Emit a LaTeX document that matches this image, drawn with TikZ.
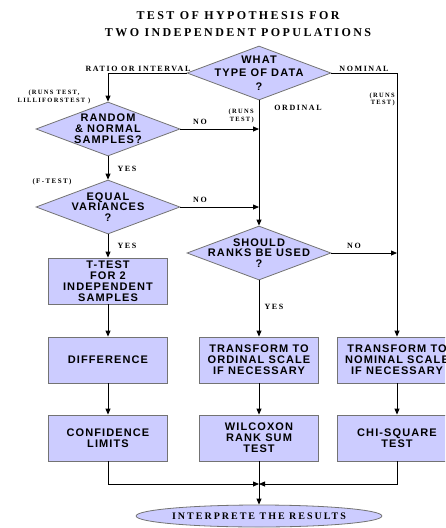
\documentclass[tikz,border=0pt]{standalone}
\usepackage{fontspec}
\setmainfont{Liberation Serif}
\newfontfamily\boxfont[LetterSpace=10]{Liberation Sans}
\newfontfamily\lblfont[LetterSpace=20]{Liberation Serif}
\usetikzlibrary{shapes.geometric, arrows.meta}
\definecolor{boxblue}{RGB}{204,204,255}
\definecolor{edgegray}{RGB}{115,115,115}
\tikzset{
  block/.style={rectangle, draw=edgegray, fill=boxblue, line width=0.8pt, minimum width=119pt, minimum height=46pt, inner sep=0pt, align=center, font=\boxfont\bfseries\fontsize{11}{11}\selectfont},
  choice/.style={diamond, draw=edgegray, fill=boxblue, line width=0.8pt, minimum width=144pt, minimum height=54pt, inner xsep=-45pt, inner ysep=-14pt, align=center, font=\boxfont\bfseries\fontsize{11}{10.8}\selectfont},
  result/.style={ellipse, draw=edgegray, fill=boxblue, line width=0.8pt, minimum width=211pt, minimum height=22pt, inner sep=0pt, font=\lblfont\bfseries\fontsize{10}{11}\selectfont},
  lbl/.style={inner sep=0pt, anchor=base, font=\lblfont\bfseries\fontsize{8}{9}\selectfont},
  note/.style={inner sep=0pt, font=\lblfont\bfseries\fontsize{6.5}{7.5}\selectfont},
  heading/.style={inner sep=0pt, align=center, font=\lblfont\bfseries\fontsize{12}{17}\selectfont},
  arr/.style={-{Triangle[length=6pt,width=5pt]}, line width=0.8pt}
}
\begin{document}
\begin{tikzpicture}[x=1pt,y=-1pt]
\clip (0,0) rectangle (445,528);
% title
\node[heading] (head) at (238,24) {TEST OF HYPOTHESIS FOR\\TWO INDEPENDENT POPULATIONS};
% decisions
\node[choice, font=\boxfont\bfseries\fontsize{11}{13.5}\selectfont] (type) at (259,73) {WHAT\\TYPE OF DATA\\?};
\node[choice] (rnd) at (108,129) {RANDOM\\\& NORMAL\\SAMPLES?};
\node[choice] (eqv) at (108,207) {EQUAL\\VARIANCES\\?};
\node[choice] (rank) at (259,253) {SHOULD\\RANKS BE USED\\?};
% boxes
\node[block] (ttest) at (108,281) {T-TEST\\FOR 2\\INDEPENDENT\\SAMPLES};
\node[block] (diff) at (108,360) {DIFFERENCE};
\node[block] (ordt) at (259,360) {TRANSFORM TO\\ORDINAL SCALE\\IF NECESSARY};
\node[block] (nomt) at (397,360) {TRANSFORM TO\\NOMINAL SCALE\\IF NECESSARY};
\node[block] (conf) at (108,438) {CONFIDENCE\\LIMITS};
\node[block] (wilc) at (259,438) {WILCOXON\\RANK SUM\\TEST};
\node[block] (chi) at (397,438) {CHI-SQUARE\\TEST};
\node[result] (res) at (259,516) {INTERPRETE THE RESULTS};
\coordinate (join) at (259,484);
% connectors
\draw[arr] (type.west) -| (rnd.north);
\draw[arr] (type.east) -| (nomt.north);
\draw[arr] (type.south) -- (rank.north);
\draw[arr] (rnd.east) -- (rnd.east -| rank.north);
\draw[arr] (rnd.south) -- (eqv.north);
\draw[arr] (eqv.east) -- (eqv.east -| rank.north);
\draw[arr] (eqv.south) -- (ttest.north);
\draw[arr] (rank.east) -- (rank.east -| nomt.north);
\draw[arr] (rank.south) -- (ordt.north);
\draw[arr] (ttest.south) -- (diff.north);
\draw[arr] (diff.south) -- (conf.north);
\draw[arr] (ordt.south) -- (wilc.north);
\draw[arr] (nomt.south) -- (chi.north);
\draw[arr] (conf.south) |- (join);
\draw[arr] (chi.south) |- (join);
\draw[arr] (wilc.south) -- (res.north);
% labels
\node[lbl] (ratio) at (138,71) {RATIO OR INTERVAL};
\node[lbl] (nomlbl) at (364,71) {NOMINAL};
\node[lbl] (ordlbl) at (298,110.5) {ORDINAL};
\node[note, align=center] (runsa) at (54,97) {(RUNS TEST,\\LILLIFORSTEST )};
\node[note, align=right, anchor=east] (runsb) at (254,116) {(RUNS\\TEST)};
\node[note, align=right, anchor=east] (runsc) at (395,99.5) {(RUNS\\TEST)};
\node[note, font=\lblfont\bfseries\fontsize{7}{8}\selectfont] (ftest) at (52,182) {(F-TEST)};
\node[lbl] (noa) at (200,124) {NO};
\node[lbl] (nob) at (200,202.5) {NO};
\node[lbl] (noc) at (354,248.5) {NO};
\node[lbl] (yesa) at (127,171.5) {YES};
\node[lbl] (yesb) at (127,248.5) {YES};
\node[lbl] (yesc) at (274,309) {YES};
\end{tikzpicture}
\end{document}
